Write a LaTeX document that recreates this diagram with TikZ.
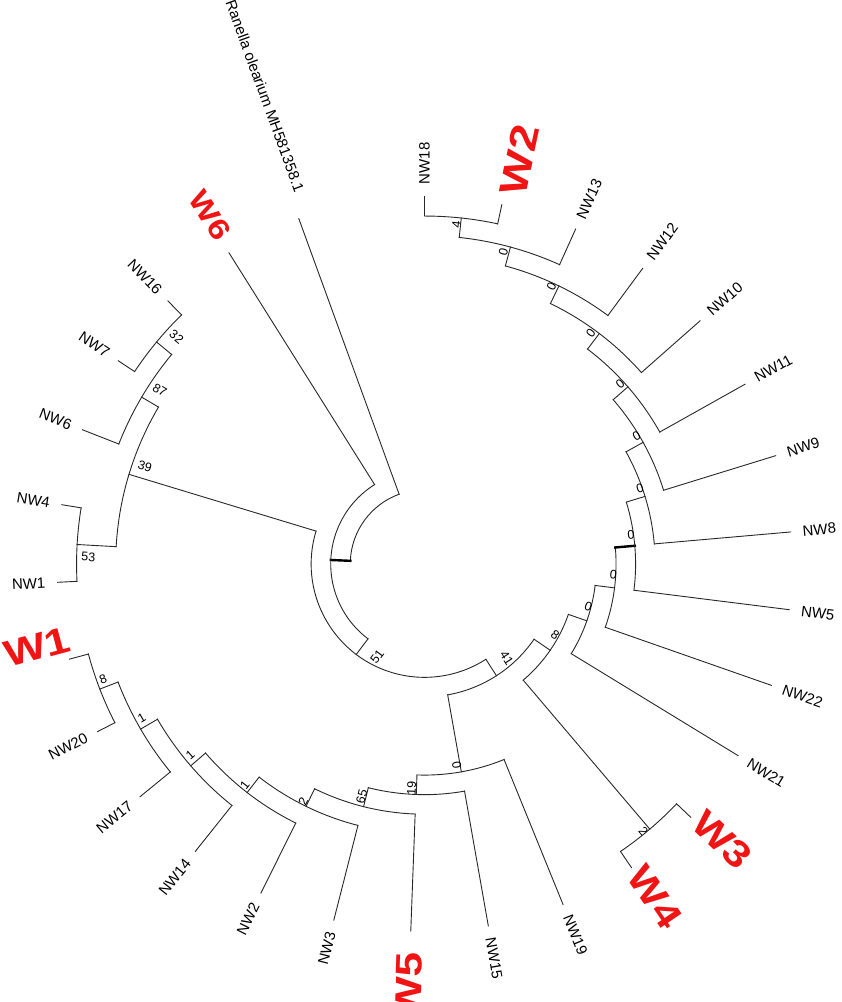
\documentclass[tikz,border=0pt]{standalone}
\usepackage{fontspec}
\setmainfont{Liberation Sans}
\newfontfamily\wfont[FakeStretch=1.2]{Liberation Sans}
\definecolor{wred}{RGB}{240,20,20}
\definecolor{brc}{RGB}{40,40,40}
\newcommand{\narc}[3]{\draw[br] (#2:#1pt) arc[start angle=#2, end angle=#3, radius=#1pt];}
\newcommand{\stem}[5][]{\coordinate (#2s) at (#3:#4pt); \coordinate (#2) at (#3:#5pt); \draw[br,#1] (#2s) -- (#2);}
\newcommand{\tip}[3]{\coordinate (#1s) at (#2:#3pt); \coordinate (#1) at (#2:367.5pt); \draw[br] (#1s) -- (#1);}
\newcommand{\rleaf}[5]{\tip{#1}{#2}{#3}\node[#5, rotate=#2, anchor=west] (#1t) at (#2:379.5pt) {#4};}
\newcommand{\lleaf}[5]{\tip{#1}{#2}{#3}\node[#5, rotate=#2-180, anchor=east] (#1t) at (#2:379.5pt) {#4};}
\newcommand{\wleaf}[7]{\tip{#1}{#2}{#3}\node[wlab, rotate=#6, #7] (#1t) at (#4:#5pt) {#1};}
\newcommand{\bsl}[5]{\node[bs, rotate=#4] (#1) at (#2:#3pt) {#5};}
\begin{document}
\begin{tikzpicture}[x=1pt,y=1pt,
  br/.style={line width=0.9pt, draw=brc, line cap=rect},
  thk/.style={line width=2.4pt, draw=black},
  lab/.style={inner sep=0pt, font=\fontsize{15}{16}\selectfont},
  wlab/.style={inner sep=0pt, text=wred, font=\wfont\bfseries\fontsize{37}{37}\selectfont},
  bs/.style={inner sep=0pt, font=\fontsize{12.5}{13}\selectfont}]
\useasboundingbox (0,0) rectangle (842,1002);
\begin{scope}[shift={(424.5,438)}]
% root
\narc{74.25}{110}{177.55}
\tip{Ran}{110}{74.25}
\node[lab, rotate=-70, anchor=east] (Rant) at (108.5:393pt) {Ranella olearium MH581358.1};
% X
\stem[thk]{X}{177.55}{74.25}{93.8}
\narc{93.8}{122.143}{232.957}
\wleaf{W6}{122.143}{93.8}{121.6}{409}{-58}{font=\wfont\bfseries\fontsize{29}{29}\selectfont}
% N51
\stem{N51}{232.957}{93.8}{113.35}
\narc{113.35}{163.125}{302.789}
% N39
\stem{N39}{163.125}{113.35}{308.85}
\narc{308.85}{149.464}{176.786}
\stem{N87}{149.464}{308.85}{328.4}
\narc{328.4}{140.357}{158.571}
\lleaf{NW6}{158.571}{328.4}{NW6}{lab}
\stem{N32}{140.357}{328.4}{347.95}
\narc{347.95}{134.286}{146.429}
\lleaf{NW16}{134.286}{347.95}{NW16}{lab}
\lleaf{NW7}{146.429}{347.95}{NW7}{lab}
\stem{N53}{176.786}{308.85}{347.95}
\narc{347.95}{170.714}{182.857}
\lleaf{NW4}{170.714}{347.95}{NW4}{lab}
\lleaf{NW1}{182.857}{347.95}{NW1}{lab}
% N41
\stem{N41}{302.789}{113.35}{132.9}
\narc{132.9}{280.048}{325.530}
\stem{N0a}{280.048}{132.9}{211.1}
\narc{211.1}{267.952}{292.143}
\rleaf{NW19}{292.143}{211.1}{NW19}{lab}
\stem{N19}{267.952}{211.1}{230.65}
\narc{230.65}{255.904}{280}
\rleaf{NW15}{280}{230.65}{NW15}{lab}
\stem{N65}{255.904}{230.65}{250.2}
\narc{250.2}{243.951}{267.857}
\wleaf{W5}{267.857}{250.2}{267.9}{422}{87.9}{}
\stem{N2}{243.951}{250.2}{269.75}
\narc{269.75}{232.188}{255.714}
\lleaf{NW3}{255.714}{269.75}{NW3}{lab}
\stem{N1a}{232.188}{269.75}{289.3}
\narc{289.3}{220.804}{243.571}
\lleaf{NW2}{243.571}{289.3}{NW2}{lab}
\stem{N1b}{220.804}{289.3}{308.85}
\narc{308.85}{210.179}{231.429}
\lleaf{NW14}{231.429}{308.85}{NW14}{lab}
\stem{N1c}{210.179}{308.85}{328.4}
\narc{328.4}{201.071}{219.286}
\lleaf{NW17}{219.286}{328.4}{NW17}{lab}
\stem{N8b}{201.071}{328.4}{347.95}
\narc{347.95}{195}{207.143}
\wleaf{W1}{195}{347.95}{192.1}{396}{15}{}
\lleaf{NW20}{207.143}{347.95}{NW20}{lab}
% N8
\stem{N8}{325.530}{132.9}{152.45}
\narc{152.45}{310.357}{340.702}
\stem{N2b}{310.357}{152.45}{347.95}
\narc{347.95}{304.286}{316.429}
\wleaf{W4}{304.286}{347.95}{304.7}{405}{-55.7}{}
\wleaf{W3}{316.429}{347.95}{317.2}{406}{-43.6}{}
\stem{N0c}{340.702}{152.45}{172}
\narc{172}{328.571}{352.833}
\rleaf{NW21}{328.571}{172}{NW21}{lab}
\stem{N0d}{352.833}{172}{191.55}
\narc{191.55}{340.714}{364.952}
\rleaf{NW22}{340.714}{191.55}{NW22}{lab}
\stem[thk]{N0e}{364.952}{191.55}{211.1}
\narc{211.1}{352.857}{377.048}
\rleaf{NW5}{352.857}{211.1}{NW5}{lab}
\stem{N0f}{377.048}{211.1}{230.65}
\narc{230.65}{365}{389.096}
\rleaf{NW8}{365}{230.65}{NW8}{lab}
\stem{N0g}{389.096}{230.65}{250.2}
\narc{250.2}{377.143}{401.049}
\rleaf{NW9}{377.143}{250.2}{NW9}{lab}
\stem{N0h}{401.049}{250.2}{269.75}
\narc{269.75}{389.286}{412.813}
\rleaf{NW11}{389.286}{269.75}{NW11}{lab}
\stem{N0i}{412.813}{269.75}{289.3}
\narc{289.3}{401.429}{424.196}
\rleaf{NW10}{401.429}{289.3}{NW10}{lab}
\stem{N0j}{424.196}{289.3}{308.85}
\narc{308.85}{413.571}{434.821}
\rleaf{NW12}{413.571}{308.85}{NW12}{lab}
\stem{N0k}{434.821}{308.85}{328.4}
\narc{328.4}{425.714}{443.929}
\rleaf{NW13}{425.714}{328.4}{NW13}{lab}
\stem{N4}{443.929}{328.4}{347.95}
\narc{347.95}{437.857}{450}
\wleaf{W2}{437.857}{347.95}{76.8}{415}{77.9}{font=\wfont\bfseries\fontsize{39}{39}\selectfont}
\rleaf{NW18}{450}{347.95}{NW18}{lab}
% bootstrap labels
\bsl{b4}{84.6}{340.5}{83.9}{4}
\bsl{b0k}{75.8}{322}{74.8}{0}
\bsl{b0j}{65.4}{305}{64.2}{0}
\bsl{b0i}{54.2}{284.3}{52.8}{0}
\bsl{b0h}{42.7}{266.2}{41.0}{0}
\bsl{b0g}{31}{247.5}{29.1}{0}
\bsl{b0f}{19.4}{228.4}{17.0}{0}
\bsl{b0e}{8.0}{208.5}{5.0}{0}
\bsl{b0d}{-3.3}{189.1}{-7.2}{0}
\bsl{b0c}{-14.6}{169.3}{-19.3}{0}
\bsl{b8}{-28.5}{148.6}{-34.5}{8}
\bsl{b41}{-48.9}{125.1}{-57.2}{41}
\bsl{b51}{243}{104}{53}{51}
\bsl{b39}{160.7}{296.2}{-16.9}{39}
\bsl{b87}{146.7}{316.6}{-30.5}{87}
\bsl{b32}{137.5}{336.3}{-39.6}{32}
\bsl{b53}{178.8}{336.3}{-3.2}{53}
\bsl{b0a}{279.1}{203.6}{-80}{0}
\bsl{b19}{266.7}{224.7}{88}{19}
\bsl{b65}{254.9}{241}{75.9}{65}
\bsl{b2}{242.98}{266.8}{64}{2}
\bsl{b1a}{230.9}{284.7}{52.2}{1}
\bsl{b1b}{219.2}{302.4}{40.8}{1}
\bsl{b1c}{208.6}{322.2}{30.2}{1}
\bsl{b8b}{199.7}{341.3}{21.1}{8}
\bsl{b2b}{309.3}{345.7}{-49.6}{2}
\end{scope}
\end{tikzpicture}
\end{document}
